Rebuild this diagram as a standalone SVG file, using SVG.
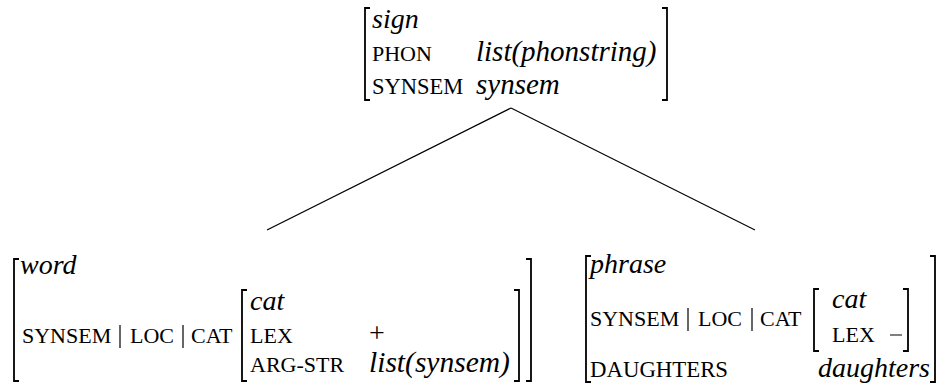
<svg xmlns="http://www.w3.org/2000/svg" width="942" height="385" viewBox="0 0 942 385" font-family="Times New Roman, Liberation Serif, serif">
<style>
text{font-family:"Liberation Serif","Times New Roman",serif;fill:#000}
.it{font-style:italic}
.br{fill:none;stroke:#000;stroke-width:1.8}
.ln{fill:none;stroke:#000;stroke-width:1.2}
</style>
<rect width="942" height="385" fill="#fff"/>
<g id="connectors">
<line class="ln" x1="511" y1="108" x2="267" y2="230"/>
<line class="ln" x1="511" y1="108" x2="755" y2="230"/>
</g>
<g id="sign">
<path class="br" d="M370,8 H365 V100 H370"/>
<path class="br" d="M662,8 H667 V100 H662"/>
<text class="it" font-size="28" x="372" y="28">sign</text>
<text font-size="22" x="372" y="61">PHON</text>
<text class="it" font-size="29" x="476" y="61">list(phonstring)</text>
<text font-size="22.5" x="372" y="94">SYNSEM</text>
<text class="it" font-size="29" x="476" y="94">synsem</text>
</g>
<g id="word">
<path class="br" d="M19,259 H14 V381 H19"/>
<path class="br" d="M526,259 H531 V381 H526"/>
<path class="br" d="M247,290 H242 V381 H247"/>
<path class="br" d="M514,290 H519 V381 H514"/>
<line class="ln" x1="120" y1="325" x2="120" y2="348"/>
<line class="ln" x1="183" y1="325" x2="183" y2="348"/>
<text class="it" font-size="28" x="20" y="274">word</text>
<text font-size="22" x="22" y="343">SYNSEM</text>
<text font-size="22" x="130" y="343">LOC</text>
<text font-size="22" x="191" y="343">CAT</text>
<text class="it" font-size="28" x="250" y="310">cat</text>
<text font-size="22" x="250" y="343">LEX</text>
<text font-size="28" x="369" y="342">+</text>
<text font-size="22" x="250" y="372">ARG-STR</text>
<text class="it" font-size="29.5" x="369" y="372">list(synsem)</text>
</g>
<g id="phrase">
<path class="br" d="M591,256 H586 V382 H591"/>
<path class="br" d="M930,256 H935 V382 H930"/>
<path class="br" d="M819,289 H814 V351 H819"/>
<path class="br" d="M903,289 H908 V351 H903"/>
<line class="ln" x1="688" y1="308" x2="688" y2="331"/>
<line class="ln" x1="752" y1="308" x2="752" y2="331"/>
<line x1="890" y1="335" x2="902" y2="335" stroke="#000" stroke-width="1"/>
<text class="it" font-size="28" x="590" y="273">phrase</text>
<text font-size="22" x="590" y="326">SYNSEM</text>
<text font-size="22" x="698" y="326">LOC</text>
<text font-size="22" x="760" y="326">CAT</text>
<text class="it" font-size="28" x="832" y="308">cat</text>
<text font-size="22" x="832" y="342">LEX</text>
<text font-size="22.8" x="590" y="377">DAUGHTERS</text>
<text class="it" font-size="28" x="818" y="377">daughters</text>
</g>
</svg>
